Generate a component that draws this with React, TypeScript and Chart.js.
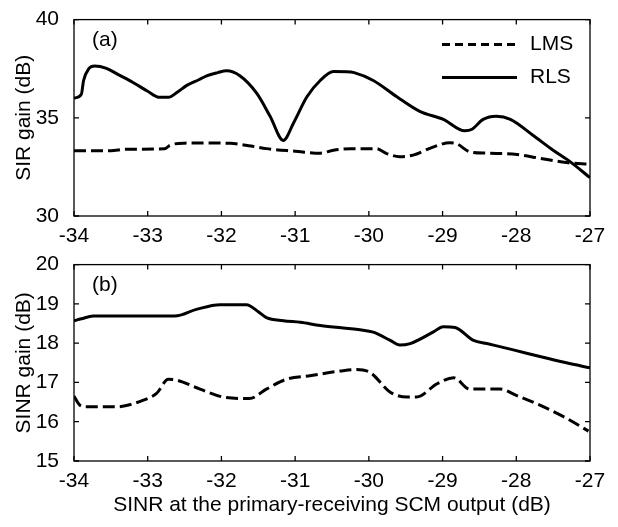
import React, { useEffect, useRef } from "react";
import { Chart, registerables } from "chart.js";

Chart.register(...registerables);

// ---------- data ----------
const xTicksMin = -34;
const xTicksMax = -27;

// (a) SIR gain
const rlsTopX = [-34, -33.9, -33.87, -33.8, -33.72, -33.56, -33.4, -33.2, -33.0, -32.85, -32.72, -32.6, -32.47, -32.3, -32.2, -32.05, -31.93, -31.75, -31.52, -31.34, -31.16, -31.02, -30.84, -30.66, -30.48, -30.3, -30.2, -29.94, -29.62, -29.31, -28.99, -28.7, -28.6, -28.45, -28.27, -28.08, -27.77, -27.5, -27.27, -27];
const rlsTopY = [36.0, 36.2, 36.9, 37.5, 37.64, 37.52, 37.2, 36.8, 36.35, 36.05, 36.04, 36.3, 36.65, 36.95, 37.14, 37.3, 37.39, 37.14, 36.24, 35.08, 33.85, 34.75, 36.07, 36.9, 37.36, 37.35, 37.3, 36.9, 36.07, 35.33, 34.92, 34.34, 34.42, 34.92, 35.08, 34.92, 34.1, 33.35, 32.77, 31.95];
const lmsTopX = [-34, -33.5, -33.3, -32.77, -32.7, -32.5, -32.2, -31.88, -31.6, -31.39, -31.0, -30.66, -30.48, -30.25, -29.9, -29.76, -29.58, -29.4, -29.13, -28.9, -28.81, -28.63, -28.4, -27.99, -27.68, -27.32, -27];
const lmsTopY = [33.32, 33.32, 33.4, 33.42, 33.6, 33.71, 33.72, 33.7, 33.56, 33.43, 33.3, 33.2, 33.35, 33.43, 33.43, 33.18, 33.02, 33.1, 33.51, 33.73, 33.68, 33.27, 33.2, 33.13, 32.94, 32.72, 32.64];

// (b) SINR gain
const rlsBotX = [-34, -33.9, -33.74, -32.63, -32.34, -32.02, -31.66, -31.5, -31.39, -31.16, -30.93, -30.66, -30.12, -29.94, -29.71, -29.58, -29.44, -29.13, -28.99, -28.83, -28.58, -28.4, -28.04, -27.68, -27.32, -27];
const rlsBotY = [18.57, 18.62, 18.69, 18.69, 18.86, 18.98, 18.98, 18.8, 18.65, 18.57, 18.53, 18.45, 18.34, 18.28, 18.07, 17.95, 17.99, 18.28, 18.42, 18.4, 18.07, 17.99, 17.83, 17.66, 17.5, 17.37];
const lmsBotX = [-34, -33.92, -33.83, -33.42, -33.1, -32.88, -32.72, -32.61, -32.29, -31.98, -31.62, -31.39, -31.12, -30.8, -30.39, -30.17, -29.98, -29.71, -29.48, -29.35, -29.08, -28.85, -28.63, -28.22, -28.0, -27.68, -27.32, -27.02];
const lmsBotY = [16.65, 16.42, 16.38, 16.38, 16.52, 16.72, 17.08, 17.06, 16.83, 16.63, 16.59, 16.83, 17.08, 17.17, 17.29, 17.33, 17.25, 16.75, 16.63, 16.63, 16.96, 17.12, 16.83, 16.83, 16.67, 16.42, 16.09, 15.76];

const seriesNames = ["LMS", "RLS"];
const panelLabels = ["(a)", "(b)"];
const yTitles = ["SIR gain (dB)", "SINR gain (dB)"];
const xTitle = "SINR at the primary-receiving SCM output (dB)";

const FONT = '"Liberation Sans", Arial, Helvetica, sans-serif';
const FS = 21;

const toPts = (xs: number[], ys: number[]) => xs.map((x, i) => ({ x, y: ys[i] }));

const framePlugin = {
  id: "frame",
  afterDatasetsDraw(chart: any, _args: any, opts: any) {
    const { ctx, chartArea, scales } = chart;
    const { left, right, top, bottom } = chartArea;
    ctx.save();
    ctx.strokeStyle = "#000";
    ctx.lineWidth = 1.3;
    ctx.strokeRect(left, top, right - left, bottom - top);
    const tl = 5;
    ctx.beginPath();
    scales.x.ticks.forEach((t: any) => {
      const px = scales.x.getPixelForValue(t.value);
      ctx.moveTo(px, bottom);
      ctx.lineTo(px, bottom - tl);
      ctx.moveTo(px, top);
      ctx.lineTo(px, top + tl);
    });
    scales.y.ticks.forEach((t: any) => {
      const py = scales.y.getPixelForValue(t.value);
      ctx.moveTo(left, py);
      ctx.lineTo(left + tl, py);
      ctx.moveTo(right, py);
      ctx.lineTo(right - tl, py);
    });
    ctx.stroke();

    ctx.fillStyle = "#000";
    ctx.font = `${FS}px ${FONT}`;
    ctx.textBaseline = "middle";
    ctx.textAlign = "left";
    ctx.fillText(opts.label, left + 18, top + 21);

    if (opts.legend) {
      const ds = chart.data.datasets;
      ds.forEach((d: any, i: number) => {
        const y = top + 25 + i * 33;
        ctx.beginPath();
        ctx.lineWidth = 3;
        ctx.setLineDash(d.borderDash && d.borderDash.length ? [8, 5] : []);
        ctx.moveTo(right - 148, y);
        ctx.lineTo(right - 73, y);
        ctx.stroke();
        ctx.setLineDash([]);
        ctx.fillText(d.label, right - 60, y);
      });
    }
    ctx.restore();
  },
};

function makeConfig(
  lms: { x: number; y: number }[],
  rls: { x: number; y: number }[],
  yMin: number,
  yMax: number,
  yStep: number,
  idx: number,
  xAxisHeight: number,
  showXTitle: boolean
): any {
  return {
    type: "line",
    data: {
      datasets: [
        {
          label: seriesNames[0],
          data: lms,
          borderColor: "#000",
          borderWidth: 3,
          borderDash: [12, 5],
          pointRadius: 0,
          fill: false,
          cubicInterpolationMode: "monotone",
        },
        {
          label: seriesNames[1],
          data: rls,
          borderColor: "#000",
          borderWidth: 3,
          pointRadius: 0,
          fill: false,
          cubicInterpolationMode: "monotone",
        },
      ],
    },
    options: {
      responsive: false,
      animation: false,
      devicePixelRatio: 1,
      layout: { padding: { left: 0, right: 28, top: 14, bottom: 0 } },
      plugins: {
        legend: { display: false },
        tooltip: { enabled: false },
        frame: { label: panelLabels[idx], legend: idx === 0 },
      },
      scales: {
        x: {
          type: "linear",
          min: xTicksMin,
          max: xTicksMax,
          grid: { display: false },
          border: { display: false },
          ticks: { stepSize: 1, padding: 0, color: "#000", font: { size: FS, family: FONT } },
          title: {
            display: showXTitle,
            text: xTitle,
            color: "#000",
            font: { size: FS, family: FONT },
            padding: { top: 0, bottom: 9 },
          },
          afterFit: (s: any) => {
            s.height = xAxisHeight;
          },
        },
        y: {
          type: "linear",
          min: yMin,
          max: yMax,
          grid: { display: false },
          border: { display: false },
          ticks: { stepSize: yStep, padding: 7, color: "#000", font: { size: FS, family: FONT } },
          title: {
            display: true,
            text: yTitles[idx],
            color: "#000",
            font: { size: FS, family: FONT },
            padding: { top: 12, bottom: 0 },
          },
          afterFit: (s: any) => {
            s.width = 74;
          },
        },
      },
    },
    plugins: [framePlugin],
  };
}

export default function App() {
  const topRef = useRef<HTMLCanvasElement>(null);
  const botRef = useRef<HTMLCanvasElement>(null);

  useEffect(() => {
    Chart.defaults.font.family = FONT;
    Chart.defaults.color = "#000";
    const c1 = new Chart(
      topRef.current!,
      makeConfig(toPts(lmsTopX, lmsTopY), toPts(rlsTopX, rlsTopY), 30, 40, 5, 0, 29, false)
    );
    const c2 = new Chart(
      botRef.current!,
      makeConfig(toPts(lmsBotX, lmsBotY), toPts(rlsBotX, rlsBotY), 15, 20, 1, 1, 66, true)
    );
    return () => {
      c1.destroy();
      c2.destroy();
    };
  }, []);

  return (
    <div style={{ position: "absolute", left: 0, top: 0, width: 618, height: 527, background: "#fff" }}>
      <canvas ref={topRef} width={618} height={245} style={{ position: "absolute", left: 0, top: 0 }} />
      <canvas ref={botRef} width={618} height={282} style={{ position: "absolute", left: 0, top: 245 }} />
    </div>
  );
}
